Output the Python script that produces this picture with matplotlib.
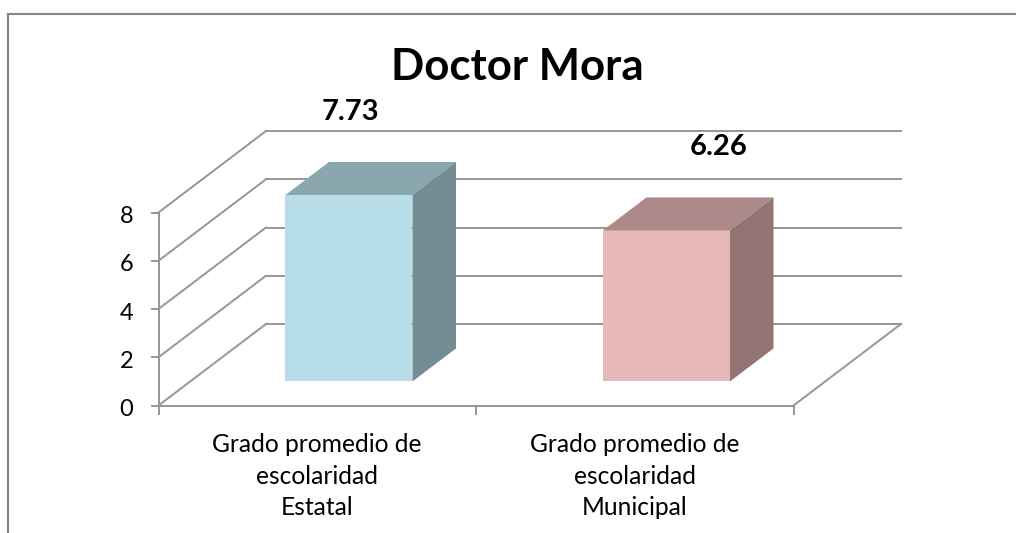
import matplotlib
matplotlib.use('Agg')
import matplotlib.pyplot as plt
from matplotlib.lines import Line2D
from matplotlib.patches import Polygon

title = 'Doctor Mora'
categories = ['Grado promedio de\nescolaridad\nEstatal', 'Grado promedio de\nescolaridad\nMunicipal']
values = [7.73, 6.26]
value_labels = ['7.73', '6.26']
y_ticks = [0, 2, 4, 6, 8]
front_colors = ['#b7dde8', '#e6b8b7']
top_colors = ['#8aa6ae', '#ad8a89']
side_colors = ['#748c93', '#927473']

W, H = 1016, 533
GRID = '#969696'

plt.rcParams['font.family'] = ['Lato', 'DejaVu Sans']

fig = plt.figure(figsize=(W / 100, H / 100), dpi=100)

# axes = front plane of the 3d box, depth is added as a pixel offset
left, right, top, bottom = 158.5, 793.5, 212.5, 405.5
ax = fig.add_axes([left / W, 1 - bottom / H, (right - left) / W, (bottom - top) / H])
ax.set_xlim(0, len(categories))
ax.set_ylim(0, 8)
ax.axis('off')

px_x = len(categories) / (right - left)
px_y = 8 / (bottom - top)
depth_x = 107.5 * px_x
depth_y = 81.5 * px_y


def proj(x, y, d):
    """ d = 0 front plane, d = 1 back wall """
    return x + d * depth_x, y + d * depth_y


def seg(p, q):
    ax.add_line(Line2D([p[0], q[0]], [p[1], q[1]], color=GRID, lw=1.4, clip_on=False, zorder=1))


# walls, floor and grid
for v in y_ticks:
    seg(proj(0, v, 0), proj(0, v, 1))
    seg(proj(0, v, 1), proj(len(categories), v, 1))
seg(proj(0, 0, 0), proj(0, 8, 0))
seg(proj(0, 0, 0), proj(len(categories), 0, 0))
seg(proj(len(categories), 0, 0), proj(len(categories), 0, 1))

# ticks
tick_x = 7 * px_x
tick_y = 8 * px_y
for v in y_ticks:
    seg((-tick_x, v), (0, v))
    ax.text(-25 * px_x, v - 4 * px_y, str(v), ha='right', va='center', fontsize=17, color='black')
for i in range(len(categories) + 1):
    seg((i, 0), (i, -tick_y))

# bars, the value labels were moved by hand in the original
bar_w = 0.4
d0, d1 = 0.295, 0.70
label_dx = [-42, 9]
for i, v in enumerate(values):
    x0 = i + 0.5 - bar_w / 2
    x1 = i + 0.5 + bar_w / 2
    front = [proj(x0, 0, d0), proj(x1, 0, d0), proj(x1, v, d0), proj(x0, v, d0)]
    roof = [proj(x0, v, d0), proj(x1, v, d0), proj(x1, v, d1), proj(x0, v, d1)]
    side = [proj(x1, 0, d0), proj(x1, 0, d1), proj(x1, v, d1), proj(x1, v, d0)]
    ax.add_patch(Polygon(front, fc=front_colors[i], ec='none', zorder=3, clip_on=False))
    ax.add_patch(Polygon(roof, fc=top_colors[i], ec='none', zorder=3, clip_on=False))
    ax.add_patch(Polygon(side, fc=side_colors[i], ec='none', zorder=3, clip_on=False))
    lx, ly = proj(i + 0.5, v, d1)
    ax.text(lx + label_dx[i] * px_x, ly + 50 * px_y, value_labels[i], ha='center', va='center', fontsize=21,
            fontweight='bold', color='black', clip_on=False)
    ax.text(i + 0.5, -28 * px_y, categories[i], ha='center', va='top', fontsize=17.7,
            linespacing=1.43, color='black')

fig.text(517 / W, 1 - 67 / H, title, ha='center', va='center', fontsize=31.5, fontweight='bold', color='black')

# chart border, only top and left are in the picture
fig.add_artist(Line2D([8 / W, 8 / W], [0, 1 - 14 / H], color='#868686', lw=1.5))
fig.add_artist(Line2D([8 / W, 1], [1 - 14 / H, 1 - 14 / H], color='#868686', lw=1.5))

fig.savefig('out.png', dpi=100)
